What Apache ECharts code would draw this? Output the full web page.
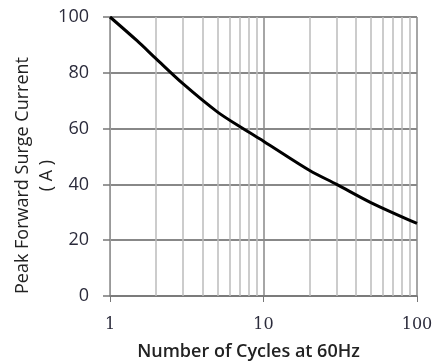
<!DOCTYPE html>
<html>
<head>
<meta charset="utf-8">
<script src="https://cdn.jsdelivr.net/npm/echarts@6/dist/echarts.min.js"></script>
<style>html,body{margin:0;padding:0;background:#fff}#c{width:437px;height:363px}</style>
</head>
<body>
<div id="c"></div>
<script>
var cycles = [1, 1.5, 2, 3, 5, 7.35, 10, 20, 30, 50, 100];
var current = [100, 91.5, 85, 76, 66, 60, 55.5, 45, 40, 33.5, 26];
var minorGrid = [2, 3, 4, 5, 6, 7, 8, 9, 20, 30, 40, 50, 60, 70, 80, 90];
var xTicks = [1, 10, 100];
var yTicks = [0, 20, 40, 60, 80, 100];

var chart = echarts.init(document.getElementById('c'));
chart.setOption({
  animation: false,
  grid: {left: 110, right: 20, top: 17, bottom: 67, outerBoundsMode: 'none', containLabel: false},
  xAxis: {
    type: 'log', logBase: 10, min: 1, max: 100,
    name: 'Number of Cycles at 60Hz', nameLocation: 'middle', nameGap: 47,
    nameTextStyle: {fontFamily: 'Open Sans', fontSize: 18, color: '#222', fontWeight: 600, padding: [0, 30, 0, 0]},
    axisLine: {show: true, lineStyle: {color: '#777', width: 1.5}},
    axisTick: {show: true, length: 6, lineStyle: {color: '#777'}},
    axisLabel: {fontFamily: 'DejaVu Serif', fontSize: 16, color: '#2b2b3b', margin: 21,
      formatter: function (v) { return xTicks.indexOf(Math.round(v)) >= 0 ? String(Math.round(v)) : ''; }},
    splitLine: {show: true, lineStyle: {color: '#888', width: 1.5}}
  },
  yAxis: {
    type: 'value', min: 0, max: 100, interval: 20,
    name: 'Peak Forward Surge Current\n( A )', nameLocation: 'middle', nameGap: 51,
    nameMoveOverlap: false,
    nameTextStyle: {fontFamily: 'Open Sans', fontSize: 18, color: '#222', lineHeight: 24, padding: [0, 38, 0, 0]},
    axisLine: {show: true, lineStyle: {color: '#999', width: 1}},
    axisTick: {show: true, length: 7, lineStyle: {color: '#777', width: 1.5}},
    axisLabel: {fontFamily: 'Open Sans', fontSize: 18, color: '#2b2b3b', margin: 21},
    splitLine: {show: true, lineStyle: {color: '#888', width: 2}}
  },
  series: [{
    type: 'line', data: cycles.map(function (c, i) { return [c, current[i]]; }),
    smooth: 0.3, symbol: 'none',
    lineStyle: {color: '#000', width: 3},
    markLine: {
      silent: true, symbol: 'none', label: {show: false},
      lineStyle: {color: '#bbb', width: 1.5, type: 'solid'},
      data: minorGrid.map(function (v) { return {xAxis: v}; })
    },
    z: 5
  }]
});
</script>
</body>
</html>
